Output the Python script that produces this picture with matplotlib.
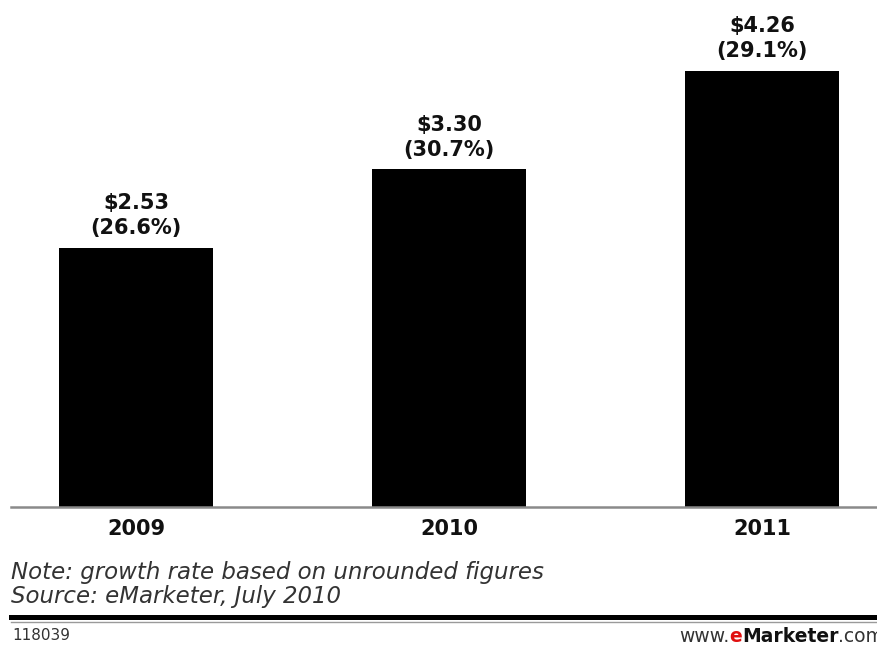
import matplotlib
matplotlib.use("Agg")
import matplotlib.pyplot as plt
from matplotlib.lines import Line2D

years = ["2009", "2010", "2011"]
spending = [2.53, 3.30, 4.26]          # billions of dollars
growth = [26.6, 30.7, 29.1]            # % change

W, H = 878, 651
fig = plt.figure(figsize=(W / 100, H / 100), dpi=100)
fig.patch.set_facecolor("white")

def fx(px):
    return px / W

def fy(py):
    return 1 - py / H

PT = 0.72  # points per pixel at 100 dpi

# plotting area: baseline at y=507 px, top at figure top
ax = fig.add_axes([0, fy(507), 1, 507 / H])
x = list(range(len(years)))
ax.bar(x, spending, width=0.492, color="black", zorder=2)
ax.set_xlim(-136 / 313, 2 + 116 / 313)
ax.set_ylim(0, 507 / 102.4)
ax.axis("off")

for xi, v, g in zip(x, spending, growth):
    ax.annotate(f"({g:.1f}%)", (xi, v), xytext=(0, 19.5 * PT),
                textcoords="offset points", ha="center", va="center",
                fontsize=15, fontweight="bold", color="#111111")
    ax.annotate(f"${v:.2f}", (xi, v), xytext=(0, 44.5 * PT),
                textcoords="offset points", ha="center", va="center",
                fontsize=15, fontweight="bold", color="#111111")

# baseline rule
fig.add_artist(Line2D([fx(11), 1], [fy(507), fy(507)], color="#8a8a8a",
                      lw=1.8, transform=fig.transFigure))

# year labels
for xi, yr in zip(x, years):
    ax.annotate(yr, (xi, 0), xytext=(0, -22 * PT), textcoords="offset points",
                ha="center", va="center", fontsize=15, fontweight="bold",
                color="#111111", annotation_clip=False)

fig.text(fx(11), fy(572), "Note: growth rate based on unrounded figures",
         fontsize=16.5, style="italic", color="#333333", va="center",
         ha="left")
fig.text(fx(11), fy(597), "Source: eMarketer, July 2010",
         fontsize=16.5, style="italic", color="#333333", va="center",
         ha="left")

# footer rules
fig.add_artist(Line2D([fx(11), 1], [fy(617), fy(617)], color="black",
                      lw=3.6, transform=fig.transFigure))
fig.add_artist(Line2D([fx(11), 1], [fy(621.5), fy(621.5)], color="#9a9a9a",
                      lw=1.0, transform=fig.transFigure))

fig.text(fx(12), fy(636), "118039", fontsize=11, color="#333333",
         va="center", ha="left")

# www.eMarketer.com footer, assembled from pieces
fig.canvas.draw()
renderer = fig.canvas.get_renderer()
xpos = fx(679)
for part, col, wt in [("www.", "#333333", "normal"), ("e", "#e01010", "bold"),
                      ("Marketer", "#111111", "bold"), (".com", "#333333", "normal")]:
    t = fig.text(xpos, fy(636), part, fontsize=13.5, color=col, fontweight=wt,
                 va="center", ha="left")
    bb = t.get_window_extent(renderer)
    xpos += bb.width / W

fig.savefig("out.png", dpi=100, facecolor="white")
